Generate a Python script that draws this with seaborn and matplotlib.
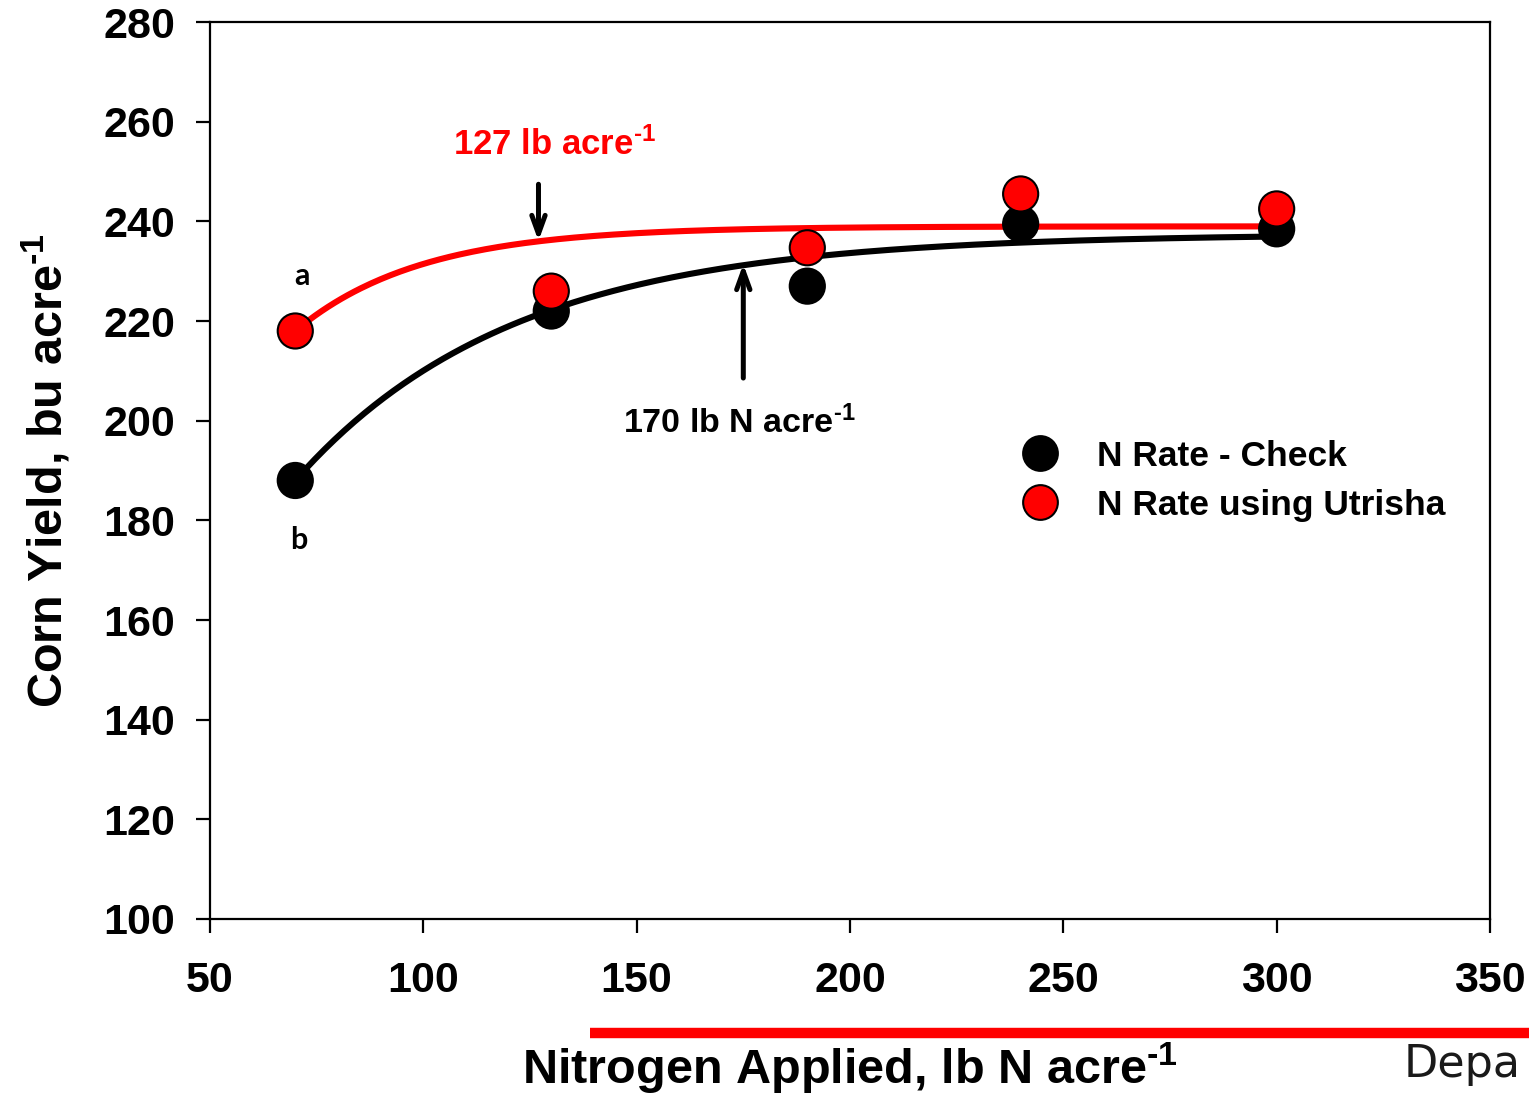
import numpy as np
import pandas as pd
import seaborn as sns
import matplotlib.pyplot as plt
from matplotlib.lines import Line2D

# Observed yields by nitrogen rate
n_rate = [70, 130, 190, 240, 300]
yield_check = [188, 222, 227, 239.5, 238.5]
yield_utrisha = [218, 226, 234.7, 245.5, 242.5]

# Exponential rise-to-plateau fits: y = a - b * exp(-c * x)
fit_check = (237.5, 49.5 * np.exp(70 * 0.01963), 0.01963)
fit_utrisha = (239.0, 21.0 * np.exp(70 * 0.0341), 0.0341)

series_names = ["N Rate - Check", "N Rate using Utrisha"]
series_colors = ["#000000", "#ff0000"]

sns.set_theme(style="white")
plt.rcParams["font.family"] = ["Liberation Sans", "DejaVu Sans"]
plt.rcParams["font.weight"] = "bold"
plt.rcParams["text.color"] = "black"
plt.rcParams["axes.labelcolor"] = "black"
plt.rcParams["mathtext.fontset"] = "custom"
plt.rcParams["mathtext.rm"] = "Liberation Sans:bold"
plt.rcParams["mathtext.bf"] = "Liberation Sans:bold"
plt.rcParams["mathtext.it"] = "Liberation Sans:bold"

SUP = "$^{\\mathbf{\u2010}\\mathbf{1}}$"

fig = plt.figure(figsize=(15.29, 10.96), dpi=100)
ax = fig.add_axes([0.1373, 0.1615, 0.9745 - 0.1373, 0.9799 - 0.1615])

pts = pd.DataFrame({
    "N": n_rate * 2,
    "Yield": yield_check + yield_utrisha,
    "Treatment": [series_names[0]] * 5 + [series_names[1]] * 5,
})

xs = np.linspace(70, 300, 300)
curves = []
for name, (a, b, c) in zip(series_names, [fit_check, fit_utrisha]):
    curves.append(pd.DataFrame({"N": xs, "Yield": a - b * np.exp(-c * xs), "Treatment": name}))
curves = pd.concat(curves)

pal = dict(zip(series_names, series_colors))
sns.lineplot(data=curves, x="N", y="Yield", hue="Treatment", palette=pal,
             linewidth=4.4, ax=ax, legend=False, zorder=2)
sns.scatterplot(data=pts, x="N", y="Yield", hue="Treatment", palette=pal,
                s=640, edgecolor="black", linewidth=1.5, ax=ax, legend=False, zorder=3)

ax.set_xlim(50, 350)
ax.set_ylim(100, 280)
ax.set_xticks(range(50, 351, 50))
ax.set_yticks(range(100, 281, 20))
for s in ax.spines.values():
    s.set_color("black")
    s.set_linewidth(1.6)
ax.tick_params(axis="both", which="both", direction="out", length=10, width=1.6,
               labelsize=31, colors="black", bottom=True, left=True, top=False, right=False)
ax.tick_params(axis="x", pad=20)
ax.tick_params(axis="y", pad=15)
for lab in ax.get_xticklabels() + ax.get_yticklabels():
    lab.set_fontweight("bold")

ax.set_xlabel("")
ax.set_ylabel("Corn Yield, bu acre" + SUP, fontsize=35, fontweight="bold", labelpad=22)

# Optimum-rate annotations
arrow_kw = dict(arrowstyle="->,head_length=1.1,head_width=0.4", lw=3.6, color="black")
ax.annotate("", xy=(127, 235.5), xytext=(127, 248), arrowprops=arrow_kw)
ax.text(130.8, 255.5, "127 lb acre" + SUP, color="#ff0000", fontsize=25,
        fontweight="bold", ha="center", va="center")
ax.annotate("", xy=(175, 232), xytext=(175, 208), arrowprops=arrow_kw)
ax.text(174, 199.5, "170 lb N acre" + SUP, color="black", fontsize=24.5,
        fontweight="bold", ha="center", va="center")

# Significance letters
ax.text(71.5, 229, "a", fontsize=22, fontweight="bold", family=["Lato", "DejaVu Sans"],
        ha="center", va="center", color="black")
ax.text(70.7, 176, "b", fontsize=22, fontweight="bold", family=["Lato", "DejaVu Sans"],
        ha="center", va="center", color="black")

# Legend
handles = [Line2D([0], [0], marker="o", linestyle="none", markersize=25,
                  markerfacecolor=c, markeredgecolor="black", markeredgewidth=1.5)
           for c in series_colors]
leg = ax.legend(handles, series_names, loc="upper left", bbox_to_anchor=(0.596, 0.57),
                frameon=False, handletextpad=0.6, labelspacing=0.45,
                prop={"weight": "bold", "size": 25.5})
for t in leg.get_texts():
    t.set_color("black")

# X-axis title with red rule above it and footer text
fig.add_artist(Line2D([590 / 1529, 1.0], [1 - 1033 / 1096] * 2, color="#ff0000", lw=7.5,
                      solid_capstyle="butt"))
fig.text(850 / 1529, 1 - 1068 / 1096, "Nitrogen Applied, lb N acre" + SUP,
         fontsize=35, fontweight="bold", ha="center", va="center", color="black")
fig.text(1404 / 1529, 1 - 1064 / 1096, "Depa", fontsize=32, fontweight="normal",
         family=["DejaVu Sans"], ha="left", va="center", color="#1a1a1a")

fig.savefig("out.png", dpi=100)
